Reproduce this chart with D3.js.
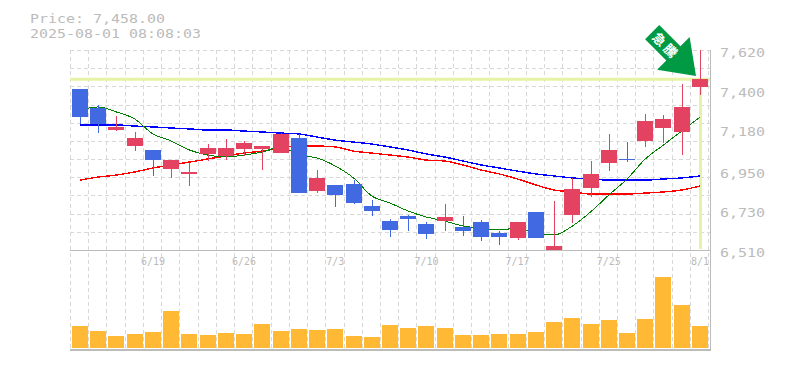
<!DOCTYPE html>
<html>

<head>
	<meta charset="utf-8" />
	<title>Price chart</title>
	<script src="https://d3js.org/d3.v7.min.js"></script>
	<style>
		body {
			margin: 0;
			background: #fff;
		}

		text {
			font-family: 'DejaVu Sans Mono', monospace;
			fill: #bbb;
		}
	</style>
</head>

<body>
	<div id="chart"></div>
	<script>
		var priceLabel = 'Price: 7,458.00';
		var stamp = '2025-08-01 08:08:03';
		var current = 7458;
		var priceTicks = [7620, 7400, 7180, 6950, 6730, 6510];
		var dateLabels = {4: '6/19', 9: '6/26', 14: '7/3', 19: '7/10', 24: '7/17', 29: '7/25', 34: '8/1'};

		var open = [7404, 7298, 7176, 7087, 7065, 6960, 6932, 7043, 7032, 7071, 7071, 7048, 7132, 6837, 6871, 6876, 6754, 6671, 6699, 6654, 6671, 6638, 6665, 6604, 6577, 6721, 6510, 6704, 6854, 6993, 7015, 7115, 7187, 7165, 7415];
		var close = [7248, 7209, 7193, 7132, 7009, 7009, 6943, 7076, 7076, 7104, 7087, 7154, 6826, 6910, 6815, 6771, 6726, 6621, 6682, 6599, 6693, 6615, 6582, 6582, 6665, 6577, 6532, 6849, 6932, 7065, 7009, 7226, 7237, 7304, 7458];
		var high = [7404, 7315, 7254, 7165, 7065, 7009, 6993, 7098, 7126, 7115, 7087, 7159, 7154, 6954, 6871, 6898, 6787, 6682, 6704, 6665, 6765, 6699, 6676, 6615, 6665, 6721, 6782, 6910, 7004, 7154, 7109, 7265, 7259, 7431, 7620];
		var low = [7209, 7159, 7170, 7059, 6921, 6910, 6865, 7004, 7009, 7032, 6954, 7048, 6826, 6826, 6749, 6765, 6699, 6582, 6615, 6571, 6615, 6588, 6560, 6538, 6565, 6577, 6510, 6660, 6804, 6948, 6998, 7082, 7104, 7037, 7370];

		var maShort = [7287, 7304, 7276, 7237, 7154, 7115, 7065, 7037, 7026, 7037, 7054, 7082, 7037, 7021, 6976, 6910, 6810, 6771, 6726, 6693, 6671, 6643, 6632, 6621, 6632, 6604, 6593, 6643, 6721, 6815, 6904, 7015, 7093, 7170, 7248];
		var maMid = [6898, 6915, 6926, 6943, 6965, 6982, 6998, 7015, 7032, 7048, 7059, 7076, 7087, 7087, 7082, 7059, 7048, 7037, 7026, 7009, 7004, 6982, 6954, 6932, 6904, 6871, 6843, 6832, 6821, 6821, 6821, 6826, 6832, 6843, 6865];
		var maLong = [7204, 7204, 7204, 7198, 7193, 7187, 7182, 7176, 7176, 7170, 7165, 7159, 7154, 7137, 7120, 7109, 7098, 7082, 7065, 7043, 7026, 7004, 6982, 6965, 6948, 6932, 6921, 6910, 6904, 6898, 6898, 6898, 6904, 6910, 6921];

		var volume = [220, 170, 120, 140, 160, 370, 140, 130, 150, 140, 240, 170, 190, 180, 190, 120, 110, 230, 200, 220, 200, 130, 130, 140, 140, 160, 260, 300, 240, 280, 150, 290, 710, 430, 220];

		var w = 785;
		var h = 370;
		var idx = d3.range(open.length);

		var svg = d3.select('#chart').append('svg')
			.attr('width', w)
			.attr('height', h)
			.style('display', 'block');

		var x = d3.scaleBand().domain(idx).range([70, 708.2]);
		var y = d3.scaleLinear().domain([6510, 7620]).range([250, 50]);
		var yVol = d3.scaleLinear().domain([0, 710]).range([348, 277]);

		function cx(i) {
			return Math.round(x(i) + 10) + 0.5;
		}

		// grid
		var gridY = d3.range(0, 11).map(function(k) {
			return 50 + Math.round(k * 18.18);
		});
		var gridX = d3.range(0, idx.length + 1).map(function(k) {
			return Math.round(70 + k * x.step());
		});
		svg.selectAll('line.gy')
			.data(gridY)
			.join('line')
			.attr('class', 'gy')
			.attr('x1', 70).attr('x2', 710)
			.attr('y1', function(d) { return d + 0.5; })
			.attr('y2', function(d) { return d + 0.5; })
			.attr('stroke', '#d8d8d8')
			.attr('stroke-dasharray', '4,3');

		svg.selectAll('line.gx')
			.data(gridX)
			.join('line')
			.attr('class', 'gx')
			.attr('x1', function(d) { return d + 0.5; })
			.attr('x2', function(d) { return d + 0.5; })
			.attr('y1', 50).attr('y2', 350)
			.attr('stroke', '#d8d8d8')
			.attr('stroke-dasharray', '4,3');

		// current price marker
		svg.append('line')
			.attr('x1', 70).attr('x2', 710)
			.attr('y1', y(current)).attr('y2', y(current))
			.attr('stroke', '#e4f3a5')
			.attr('stroke-width', 3);
		svg.append('line')
			.attr('x1', cx(34)).attr('x2', cx(34))
			.attr('y1', y(current)).attr('y2', 249)
			.attr('stroke', '#e4f3a5')
			.attr('stroke-width', 3);

		// axis frame
		svg.append('line').attr('x1', 70).attr('x2', 711).attr('y1', 250.5).attr('y2', 250.5).attr('stroke', '#bbb');
		svg.append('line').attr('x1', 70).attr('x2', 711).attr('y1', 350).attr('y2', 350).attr('stroke', '#bbb').attr('stroke-width', 2);
		svg.append('line').attr('x1', 710.5).attr('x2', 710.5).attr('y1', 50).attr('y2', 351).attr('stroke', '#bbb');

		// moving averages
		var series = [
			{values: maLong, color: '#0000ff', width: 1.4},
			{values: maMid, color: '#ff0000', width: 1.4},
			{values: maShort, color: '#008000', width: 1}
		];
		var line = d3.line()
			.x(function(d, i) { return x(i) + 10; })
			.y(function(d) { return y(d); })
			.curve(d3.curveMonotoneX);

		svg.selectAll('path.ma')
			.data(series)
			.join('path')
			.attr('class', 'ma')
			.attr('fill', 'none')
			.attr('shape-rendering', 'crispEdges')
			.attr('stroke', function(d) { return d.color; })
			.attr('stroke-width', function(d) { return d.width; })
			.attr('d', function(d) { return line(d.values); });

		// candles
		function candleColor(i) {
			return close[i] >= open[i] ? '#e34360' : '#4169e1';
		}

		svg.selectAll('line.wick')
			.data(idx)
			.join('line')
			.attr('class', 'wick')
			.attr('x1', cx).attr('x2', cx)
			.attr('y1', function(i) { return y(high[i]); })
			.attr('y2', function(i) { return y(low[i]); })
			.attr('shape-rendering', 'crispEdges')
			.attr('stroke', candleColor);

		svg.selectAll('rect.body')
			.data(idx)
			.join('rect')
			.attr('class', 'body')
			.attr('x', function(i) { return Math.round(x(i) + 2); })
			.attr('width', 16)
			.attr('y', function(i) { return y(Math.max(open[i], close[i])); })
			.attr('height', function(i) { return Math.max(1, y(Math.min(open[i], close[i])) - y(Math.max(open[i], close[i]))); })
			.attr('shape-rendering', 'crispEdges')
			.attr('fill', candleColor);

		// volume
		svg.selectAll('rect.vol')
			.data(idx)
			.join('rect')
			.attr('class', 'vol')
			.attr('x', function(i) { return Math.round(x(i) + 2); })
			.attr('width', 16)
			.attr('y', function(i) { return yVol(volume[i]); })
			.attr('height', function(i) { return yVol(0) - yVol(volume[i]); })
			.attr('shape-rendering', 'crispEdges')
			.attr('fill', '#ffb935');

		// labels, 13px glyphs stretched out to the 9px cell of the original
		function wideText(sel, str) {
			sel.attr('font-size', 13)
				.attr('textLength', str.length * 9)
				.attr('lengthAdjust', 'spacingAndGlyphs')
				.text(str);
		}

		svg.selectAll('text.price')
			.data(priceTicks)
			.join('text')
			.attr('class', 'price')
			.attr('x', 720)
			.attr('y', function(d) { return y(d) + 7; })
			.each(function(d) {
				wideText(d3.select(this), d3.format(',')(d));
			});

		svg.selectAll('text.date')
			.data(Object.keys(dateLabels))
			.join('text')
			.attr('class', 'date')
			.attr('x', function(i) { return x(+i) + 10; })
			.attr('y', 265)
			.attr('text-anchor', 'middle')
			.attr('font-size', 10)
			.text(function(i) { return dateLabels[i]; });

		wideText(svg.append('text').attr('x', 30).attr('y', 23), priceLabel);
		wideText(svg.append('text').attr('x', 30).attr('y', 38), stamp);

		// rising-price arrow
		var arrow = svg.append('g').attr('transform', 'translate(696,76) rotate(-135)');
		arrow.append('path')
			.attr('d', 'M0,0 L32,-23 L32,-10 L62,-10 L62,10 L32,10 L32,23 Z')
			.attr('fill', '#009944');
		var mark = svg.append('g').attr('transform', 'translate(666,46) rotate(45)');
		mark.append('text')
			.attr('text-anchor', 'middle')
			.attr('y', 5)
			.attr('font-size', 13)
			.attr('font-weight', 'bold')
			.attr('letter-spacing', 3)
			.style('font-family', "'Noto Sans CJK JP'")
			.style('fill', '#fff')
			.text('急騰');
	</script>
</body>

</html>
